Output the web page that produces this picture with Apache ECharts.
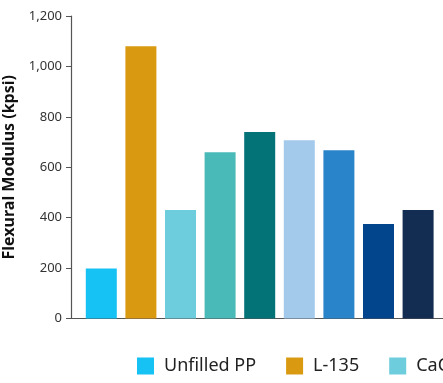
<!DOCTYPE html>
<html>
<head>
<meta charset="utf-8">
<script src="https://cdn.jsdelivr.net/npm/echarts@6/dist/echarts.min.js"></script>
<style>
  html, body { margin: 0; padding: 0; background: #fff; }
  #chart { width: 443px; height: 383px; }
</style>
</head>
<body>
<div id="chart"></div>
<script>
// Flexural modulus of unfilled and filled PP compounds (kpsi)
const seriesNames = ['Unfilled PP', 'L-135', 'CaCO3', 'Series 4', 'Series 5', 'Series 6', 'Series 7', 'Series 8', 'Series 9'];
const modulusValues = [198, 1080, 430, 660, 740, 707, 667, 375, 430];
const legendNames = ['Unfilled PP', 'L-135', 'CaCO3'];
const yTicks = { min: 0, max: 1200, interval: 200 };

const palette = ['#16C1F3', '#D99A12', '#6DCDDC', '#4ABAB8', '#037378',
                 '#A3C9EB', '#2A84C9', '#03458C', '#132C51'];

const FONT = 'Noto Sans';

// One series per compound, stacked on a shared category so every bar sits in its own slot
const series = seriesNames.map((name, i) => ({
  name: name,
  type: 'bar',
  stack: 'all',
  xAxisIndex: 0,
  yAxisIndex: 0,
  barWidth: 31,
  itemStyle: { color: palette[i] },
  data: seriesNames.map((_, j) => (j === i ? modulusValues[i] : '-'))
}));

// Baseline running from the value axis to the right edge
series.push({
  type: 'line',
  xAxisIndex: 1,
  yAxisIndex: 1,
  data: [],
  silent: true
});

const chart = echarts.init(document.getElementById('chart'), null, { renderer: 'canvas' });
chart.setOption({
  animation: false,
  textStyle: { fontFamily: FONT },
  grid: [
    { left: 81.5, top: 16, width: 356.4, bottom: 64.5, containLabel: false, outerBoundsMode: 'none' },
    { left: 71, top: 16, right: -20, bottom: 64.5, containLabel: false, outerBoundsMode: 'none' }
  ],
  legend: {
    data: legendNames,
    left: 137,
    top: 357,
    width: 1000,
    padding: 0,
    icon: 'rect',
    itemWidth: 17,
    itemHeight: 17,
    itemGap: 30,
    textStyle: { fontFamily: FONT, fontSize: 18, color: '#222', padding: [0, 0, 0, 5] }
  },
  xAxis: [
    {
      type: 'category',
      gridIndex: 0,
      data: seriesNames,
      axisLine: { show: false },
      axisTick: { show: false },
      axisLabel: { show: false }
    },
    {
      type: 'value',
      gridIndex: 1,
      min: 0,
      max: 1,
      axisLine: { show: true, lineStyle: { color: '#555', width: 1.2 } },
      axisTick: { show: false },
      axisLabel: { show: false },
      splitLine: { show: false }
    }
  ],
  yAxis: [
    {
      type: 'value',
      gridIndex: 0,
      min: yTicks.min,
      max: yTicks.max,
      interval: yTicks.interval,
      offset: 10.5,
      name: 'Flexural Modulus (kpsi)',
      nameLocation: 'middle',
      nameGap: 47,
      nameTextStyle: { fontFamily: FONT, fontSize: 16, fontWeight: 'bold', color: '#111' },
      axisLine: { show: true, lineStyle: { color: '#555', width: 1.2 } },
      axisTick: { show: true, length: 5, lineStyle: { color: '#555' } },
      axisLabel: { fontFamily: FONT, fontSize: 13, color: '#333', margin: 9 },
      splitLine: { show: false }
    },
    {
      type: 'value',
      gridIndex: 1,
      min: 0,
      max: 1,
      show: false
    }
  ],
  series: series
});
</script>
</body>
</html>
